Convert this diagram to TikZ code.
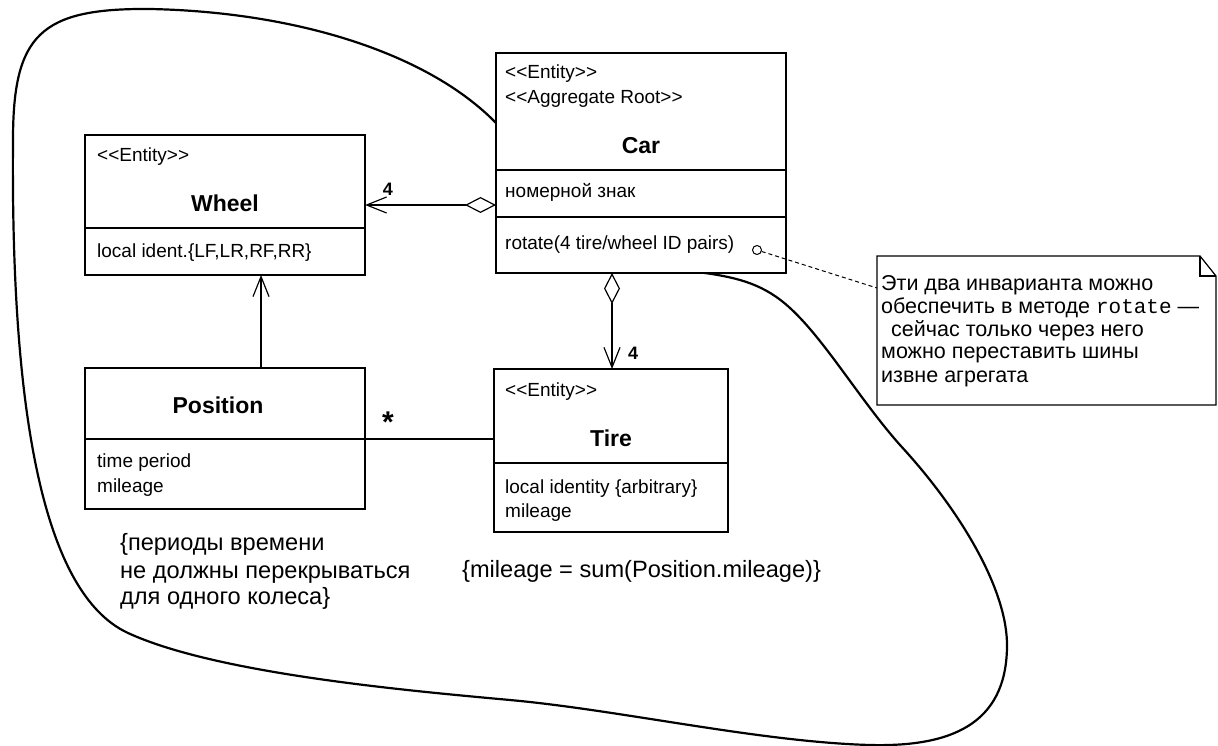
\documentclass[tikz,border=0pt]{standalone}
\usepackage{fontspec}
\setmainfont{Liberation Sans}
\newfontfamily\notemono{Liberation Mono}
\usetikzlibrary{arrows.meta}
\newcommand\dlt{<\kern0pt<}
\newcommand\dgt{>\kern0pt>}
\tikzset{
  umlbox/.style={draw, line width=1.2pt, fill=white, inner sep=0pt, outer sep=0pt, anchor=north west},
  sepline/.style={line width=1.2pt},
  txt/.style={anchor=base west, inner sep=0pt, font=\fontsize{19}{22}\selectfont},
  ttl/.style={anchor=base, inner sep=0pt, font=\bfseries\fontsize{23}{26}\selectfont},
  constr/.style={anchor=base west, inner sep=0pt, font=\fontsize{23.6}{27}\selectfont},
  notetxt/.style={anchor=base west, inner sep=0pt, font=\fontsize{21.5}{23}\selectfont},
  mult/.style={inner sep=0pt, font=\bfseries\fontsize{18}{20}\selectfont},
  conn/.style={line width=1.2pt},
  blob/.style={line width=2.2pt, line join=round},
}
\begin{document}
\begin{tikzpicture}[x=1pt,y=-1pt]
\useasboundingbox (0,0) rectangle (1218,746);
\fill[white] (0,0) rectangle (1218,746);
% aggregate boundary
\draw[blob] (496,123) .. controls (430,55) and (300,12) .. (150,9)
  .. controls (40,8) and (13,35) .. (13,140)
  .. controls (11,380) and (35,590) .. (128,633)
  .. controls (215,673) and (400,690) .. (510,700)
  .. controls (620,710) and (760,742) .. (870,745)
  .. controls (950,747) and (1006,725) .. (1007,647)
  .. controls (1008,590) and (960,510) .. (900,445)
  .. controls (860,400) and (825,340) .. (790,308)
  .. controls (765,285) and (740,278) .. (705,273)
  .. controls (640,265) and (546,175) .. (496,123) -- cycle;
% guide coordinates
\coordinate (yc1) at (0,170);
\coordinate (yc2) at (0,217);
\coordinate (yw1) at (0,228);
\coordinate (yp1) at (0,439);
\coordinate (yt1) at (0,463);
\coordinate (ycw) at (0,205);
\coordinate (xct) at (612,0);
\coordinate (xpw) at (261,0);
\coordinate (ynote) at (0,288);
% boxes
\node[umlbox, minimum width=290pt, minimum height=220pt] (car) at (496,53) {};
\node[umlbox, minimum width=280pt, minimum height=140pt] (wheel) at (85,135) {};
\node[umlbox, minimum width=280pt, minimum height=141pt] (position) at (85,368) {};
\node[umlbox, minimum width=234pt, minimum height=163pt] (tire) at (494,369) {};
\draw[sepline] (car.west |- yc1) -- (car.east |- yc1);
\draw[sepline] (car.west |- yc2) -- (car.east |- yc2);
\draw[sepline] (wheel.west |- yw1) -- (wheel.east |- yw1);
\draw[sepline] (position.west |- yp1) -- (position.east |- yp1);
\draw[sepline] (tire.west |- yt1) -- (tire.east |- yt1);
% Car texts
\node[txt] (cars1) at (505,79) {\dlt Entity\dgt};
\node[txt] (cars2) at (505,104) {\dlt Aggregate Root\dgt};
\node[ttl] (cart) at (641,154) {Car};
\node[txt] (cara) at (505,198) {номерной знак};
\node[txt] (caro) at (505,250) {rotate(4 tire/wheel ID pairs)};
% Wheel texts
\node[txt] (whs) at (97,162) {\dlt Entity\dgt};
\node[ttl] (wht) at (225,212) {Wheel};
\node[txt] (wha) at (97,258) {local ident.\{LF,LR,RF,RR\}};
% Position texts
\node[ttl] (post) at (218,413) {Position};
\node[txt] (posa) at (97,467) {time period};
\node[txt] (posb) at (97,492) {mileage};
% Tire texts
\node[txt] (tis) at (505,396) {\dlt Entity\dgt};
\node[ttl] (tit) at (611,446) {Tire};
\node[txt] (tia) at (505,493) {local identity \{arbitrary\}};
\node[txt] (tib) at (505,517) {mileage};
% constraints
\node[constr] (c1a) at (120,550) {\{периоды времени};
\node[constr] (c1b) at (120,578) {не должны перекрываться};
\node[constr] (c1c) at (120,604) {для одного колеса\}};
\node[constr] (c2) at (462,577) {\{mileage = sum(Position.mileage)\}};
% connectors
\draw[conn, {Diamond[open,length=31pt,width=16pt]}-{Straight Barb[length=20pt,width=16pt]}]
  (car.west |- ycw) -- (wheel.east |- ycw);
\draw[conn, {Diamond[open,length=31pt,width=16pt]}-{Straight Barb[length=20pt,width=16pt]}]
  (car.south -| xct) -- (tire.north -| xct);
\draw[conn, -{Straight Barb[length=20pt,width=16pt]}]
  (position.north -| xpw) -- (wheel.south -| xpw);
\draw[conn] (position.east |- yp1) -- (tire.west |- yp1);
\node[mult] (m1) at (388,189) {4};
\node[mult] (m2) at (633,353) {4};
\node[inner sep=0pt, font=\bfseries\fontsize{30}{30}\selectfont] (star) at (388,422) {*};
% note
\node[inner sep=0pt, outer sep=0pt, minimum width=339pt, minimum height=149pt, anchor=north west] (note) at (877,256) {};
\coordinate (ear1) at (1200,256);
\coordinate (ear2) at (1216,276);
\draw[line width=1.2pt, fill=white] (note.north west) -- (ear1) -- (ear2) -- (note.south east) -- (note.south west) -- cycle;
\draw[line width=1.2pt] (ear1) -- (ear1 |- ear2) -- (ear2);
\node[circle, draw, line width=1pt, minimum size=9pt, inner sep=0pt, fill=white] (hook) at (757,250) {};
\draw[line width=1pt, dash pattern=on 4pt off 3pt] (hook) -- (note.west |- ynote);
\node[notetxt] (n1) at (881,290) {Эти два инварианта можно};
\node[notetxt] (n2) at (881,313) {обеспечить в методе {\notemono\fontsize{21}{23}\selectfont rotate} —};
\node[notetxt] (n3) at (891,336) {сейчас только через него};
\node[notetxt] (n4) at (881,358) {можно переставить шины};
\node[notetxt] (n5) at (881,382) {извне агрегата};
\end{tikzpicture}
\end{document}
